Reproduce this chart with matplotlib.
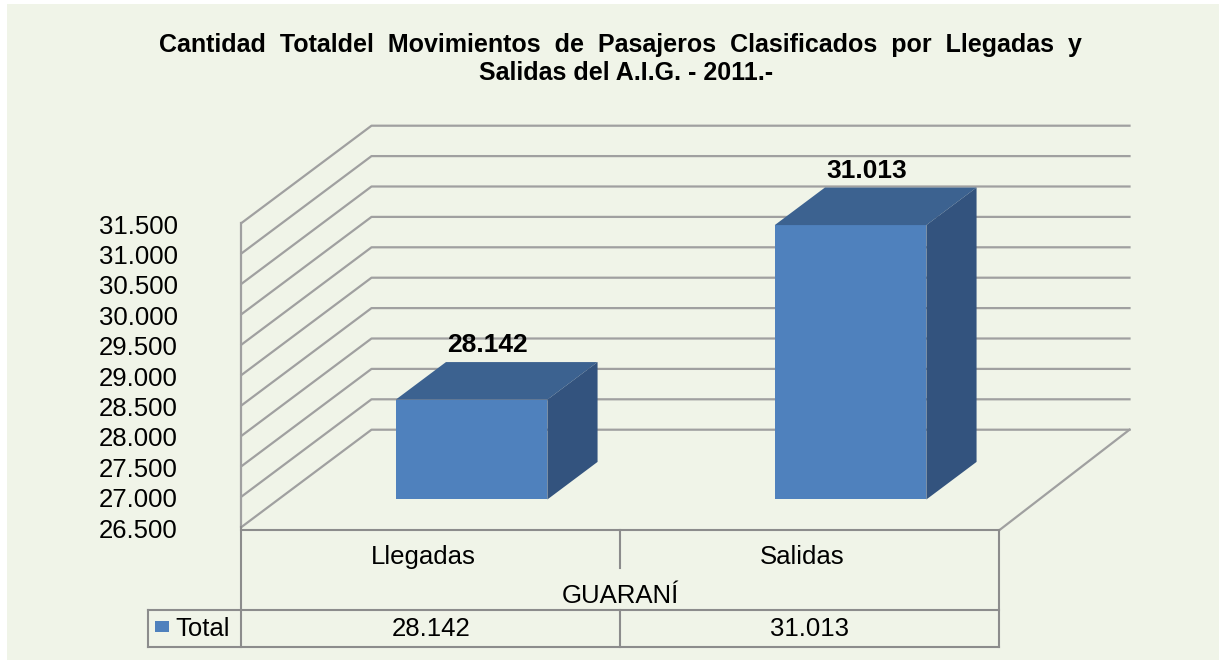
import numpy as np
import matplotlib
matplotlib.use("Agg")
import matplotlib.pyplot as plt
from matplotlib.patches import Polygon, Rectangle

plt.rcParams['font.family'] = ['Liberation Sans', 'DejaVu Sans']

# data
categories = ["Llegadas", "Salidas"]
group_label = "GUARANÍ"
series_name = "Total"
values = [28142, 31013]
ticks = np.arange(26500, 31501, 500)
title_lines = ["Cantidad Totaldel Movimientos de Pasajeros Clasificados por Llegadas y",
               "Salidas del A.I.G. - 2011.-"]

def fmt(v):
    return f"{v:,}".replace(",", ".")

# colours
bg = "#f0f4e8"
grid_c = "#a0a0a0"
front_c = "#4f81bd"
top_c = "#3c6290"
side_c = "#33537e"
tbl_c = "#8c8c8c"

W, H = 1219, 660
fig = plt.figure(figsize=(W / 100, H / 100), dpi=100)
fig.patch.set_facecolor("white")
fig.patches.append(Rectangle((7 / W, 0), 1 - 7 / W, 1 - 4 / H, transform=fig.transFigure,
                             facecolor=bg, edgecolor="none", zorder=-5))

# axes covering the figure; x in category units, y in value units
ax = fig.add_axes([0, 0, 1, 1])
ax.set_facecolor("none")
ax.axis("off")
x0px, xstep = 431, 379.0        # pixel of category 0, pixels per category
y0px, ystep = 527, 0.0608       # pixel of axis minimum, pixels per unit
ymin = ticks[0]
ax.set_xlim((0 - x0px) / xstep, (W - x0px) / xstep)
ax.set_ylim(ymin - (H - y0px) / ystep, ymin + y0px / ystep)

DX = 130 / xstep                # depth offset in x
DY = 97.3 / ystep               # depth offset in y
d0, d1 = 0.283, 0.669           # bar depth range
bw = 0.4
xl_, xr_ = -0.5, len(categories) - 0.5

# walls / gridlines
ax.plot([xl_, xl_], [ticks[0], ticks[-1]], color=grid_c, lw=1.6, zorder=1)
for t in ticks:
    ax.plot([xl_, xl_ + DX, xr_ + DX], [t, t + DY, t + DY], color=grid_c, lw=1.6, zorder=1)
ax.plot([xr_, xr_ + DX], [ymin - 50, ymin + DY], color=grid_c, lw=1.6, zorder=1)

for i, t in enumerate(ticks):
    ax.text(-0.668, t - 60, fmt(t), ha="right", va="center", fontsize=18.5)

# 3D bars
for i, v in enumerate(values):
    xl = i - bw / 2 + d0 * DX + 0.01
    xr = xl + bw
    b0 = ymin + d0 * DY
    ax.bar(xl, v - ymin, bottom=b0, width=bw, align="edge", color=front_c, zorder=3)
    ax.add_patch(Polygon([(xl, v + d0 * DY), (xr, v + d0 * DY),
                          (xr + (d1 - d0) * DX, v + d1 * DY), (xl + (d1 - d0) * DX, v + d1 * DY)],
                         closed=True, facecolor=top_c, edgecolor="none", zorder=3))
    ax.add_patch(Polygon([(xr, b0), (xr, v + d0 * DY),
                          (xr + (d1 - d0) * DX, v + d1 * DY), (xr + (d1 - d0) * DX, ymin + d1 * DY)],
                         closed=True, facecolor=side_c, edgecolor="none", zorder=3))
    ax.text(i + 0.15, v + 1350, fmt(v), ha="center", va="center",
            fontsize=19, fontweight="bold", zorder=5)

# category axis and data table (x in data, y in axes fraction)
tr = ax.get_xaxis_transform()
fy = lambda p: 1 - p / H
kw = dict(color=tbl_c, lw=1.5, transform=tr, zorder=2)
ax.plot([xl_, xr_], [fy(529.5), fy(529.5)], **kw)
ax.plot([xl_, xl_], [fy(527), fy(647)], **kw)
ax.plot([xr_, xr_], [fy(529.5), fy(647)], **kw)
for k in range(1, len(categories)):
    ax.plot([k - 0.5, k - 0.5], [fy(529.5), fy(568)], **kw)
    ax.plot([k - 0.5, k - 0.5], [fy(609.5), fy(647)], **kw)
x_leg = (148 - x0px) / xstep
ax.plot([x_leg, xr_], [fy(609.5), fy(609.5)], **kw)
ax.plot([x_leg, xr_], [fy(647), fy(647)], **kw)
ax.plot([x_leg, x_leg], [fy(609.5), fy(647)], **kw)

for i, c in enumerate(categories):
    ax.text(i - 0.02, fy(557), c, transform=tr, ha="center", va="center", fontsize=18.5)
    ax.text(i, fy(629), fmt(values[i]), transform=tr, ha="center", va="center", fontsize=18.5)
ax.text((len(categories) - 1) / 2, fy(596), group_label, transform=tr,
        ha="center", va="center", fontsize=18.5)
ax.add_patch(Rectangle(((155 - x0px) / xstep, fy(632)), 14 / xstep, 11 / H, transform=tr,
                       facecolor=front_c, edgecolor="none", zorder=3))
ax.text((175 - x0px) / xstep, fy(629), series_name, transform=tr,
        ha="left", va="center", fontsize=18.5)

# title (wide word spacing as in the original)
fig.text(620 / W, fy(45), title_lines[0].replace(" ", "  "), ha="center", va="center",
         fontsize=18, fontweight="bold")
fig.text(626 / W, fy(73), title_lines[1], ha="center", va="center",
         fontsize=18, fontweight="bold")

fig.savefig("out.png", dpi=100, facecolor=fig.get_facecolor())
